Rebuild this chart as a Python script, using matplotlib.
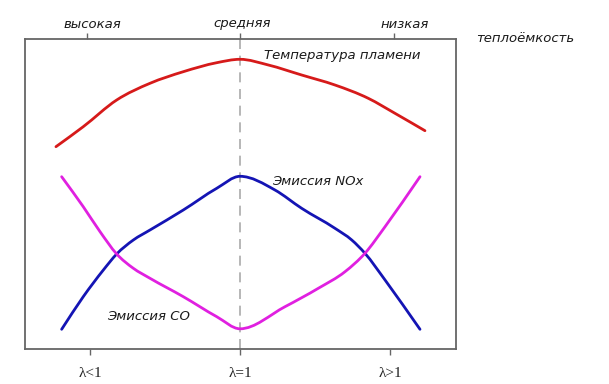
import matplotlib
matplotlib.use("Agg")
import matplotlib.pyplot as plt
from matplotlib.path import Path
from matplotlib.patches import PathPatch

# x: lambda position (tick units), y: relative level
temp_x = [-1.227, -1.045, -0.822, -0.6, -0.378, -0.155, 0.0, 0.189, 0.411, 0.633, 0.855, 1.033, 1.233]
temp_y = [202.6, 222.6, 249.3, 266, 277.6, 286.6, 290, 284.3, 274.3, 264.3, 251, 236, 218.6]

nox_x = [-1.189, -1.045, -0.911, -0.822, -0.711, -0.6, -0.378, -0.155, 0.0, 0.233, 0.411, 0.633, 0.745, 0.833, 0.967, 1.2]
nox_y = [20, 52.6, 79.3, 95.3, 109.3, 119.3, 139.3, 161, 173, 159.3, 141, 121, 109.3, 96, 69.3, 20]

co_x = [-1.189, -1.045, -0.933, -0.822, -0.711, -0.6, -0.378, -0.155, 0.0, 0.3, 0.522, 0.7, 0.833, 0.967, 1.2]
co_y = [172.6, 142.6, 117.6, 95.3, 81, 71, 52.6, 32.6, 20.5, 42.6, 61, 77.6, 96, 122.6, 172.6]

bottom_ticks = [-1, 0, 1]
bottom_labels = ["λ<1", "λ=1", "λ>1"]
top_ticks = [-1.02, 0, 1.027]
top_labels = ["высокая", "средняя", "низкая"]

fig = plt.figure(figsize=(6.09, 3.84), dpi=100)
ax = fig.add_axes([25/609, 1-349.3/384, (456-25)/609, (349.3-39.3)/384])
ax.set_xlim((25-240)/150, (456-240)/150)
ax.set_ylim(0, 310)


def smooth_curve(ax, xs, ys, color):
    """Draw a smooth curve through the read points (Hermite segments as a Bezier path)."""
    n = len(xs)
    h = [xs[i + 1] - xs[i] for i in range(n - 1)]
    s = [(ys[i + 1] - ys[i]) / h[i] for i in range(n - 1)]
    d = [0.0] * n
    d[0], d[-1] = s[0], s[-1]
    for i in range(1, n - 1):
        if s[i - 1] * s[i] <= 0:
            d[i] = 0.0
        else:
            d[i] = (h[i - 1] * s[i] + h[i] * s[i - 1]) / (h[i - 1] + h[i])
    verts = [(xs[0], ys[0])]
    codes = [Path.MOVETO]
    for i in range(n - 1):
        verts += [(xs[i] + h[i] / 3, ys[i] + d[i] * h[i] / 3),
                  (xs[i + 1] - h[i] / 3, ys[i + 1] - d[i + 1] * h[i] / 3),
                  (xs[i + 1], ys[i + 1])]
        codes += [Path.CURVE4] * 3
    patch = PathPatch(Path(verts, codes), facecolor="none", edgecolor=color, lw=2,
                      capstyle="round", joinstyle="round", zorder=3, clip_on=False)
    ax.add_patch(patch)


ax.axvline(0, color="#aaaaaa", lw=1.2, ls=(0, (6, 4)), zorder=1)
smooth_curve(ax, temp_x, temp_y, "#d61a1a")
smooth_curve(ax, nox_x, nox_y, "#1414b4")
smooth_curve(ax, co_x, co_y, "#e020e0")

for sp in ax.spines.values():
    sp.set_color("#666666")
    sp.set_linewidth(1.3)

ax.set_yticks([])
ax.set_xticks(bottom_ticks)
ax.set_xticklabels(bottom_labels, family="Liberation Serif", fontsize=11, color="#222222")
ax.tick_params(axis="x", direction="out", length=4, width=1, color="#666666", pad=9)

sec = ax.secondary_xaxis("top")
sec.set_xticks(top_ticks)
sec.set_xticklabels([])
sec.tick_params(direction="out", length=4, width=1, color="#666666")
sec.spines["top"].set_visible(False)


def px(x, y, txt, ha="left", **kw):
    fig.text(x/609, 1-y/384, txt, ha=ha, va="center", style="italic",
             family="DejaVu Sans", color="#1a1a1a", **kw)


px(92, 24, top_labels[0], ha="center", fontsize=9.5)
px(242, 24, top_labels[1], ha="center", fontsize=9.5)
px(405, 24, top_labels[2], ha="center", fontsize=9.5)
px(476, 38, "теплоёмкость", fontsize=9.5)
px(264, 56, "Температура пламени", fontsize=9.5)
px(272, 182, "Эмиссия NOx", fontsize=9.5)
px(107, 316, "Эмиссия CO", fontsize=9.5)

fig.savefig("out.png", dpi=100)
